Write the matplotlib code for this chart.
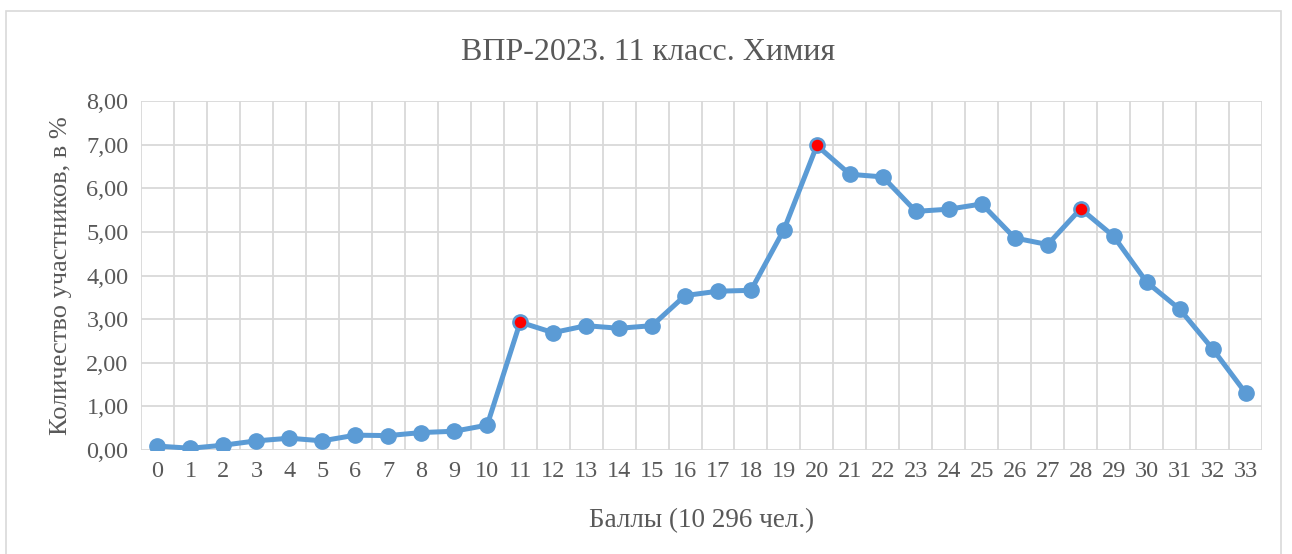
import numpy as np
import matplotlib.pyplot as plt
from matplotlib.patches import Rectangle

# scores 0..33 and share of participants, %
scores = list(range(34))
percent = [0.09, 0.04, 0.11, 0.21, 0.27, 0.21, 0.34, 0.33, 0.40, 0.43,
           0.57, 2.93, 2.69, 2.85, 2.79, 2.85, 3.54, 3.64, 3.66, 5.05,
           6.98, 6.32, 6.26, 5.47, 5.52, 5.64, 4.86, 4.71, 5.53, 4.90,
           3.85, 3.23, 2.32, 1.31]
highlight = [11, 20, 28]  # red marked points

title = "ВПР-2023. 11 класс. Химия"
xlabel = "Баллы (10 296 чел.)"
ylabel = "Количество участников, в %"

plt.rcParams['font.family'] = ['Liberation Serif', 'DejaVu Serif']
txt = '#595959'
blue = '#5B9BD5'
grid = '#D9D9D9'

fig = plt.figure(figsize=(12.92, 5.54), dpi=100)
ax = fig.add_axes([141/1292, 1 - 450/554, (1262-141)/1292, (450-101)/554])

# outer chart frame
fig.patches.append(Rectangle((6/1292, -0.05), (1281-6)/1292, 1.05 - 11/554,
                             transform=fig.transFigure, fill=False,
                             edgecolor=grid, lw=1.2))

ax.plot(scores, percent, color=blue, lw=3.6, marker='o', ms=11,
        mfc=blue, mec=blue, zorder=3)
hx = [scores[i] for i in highlight]
hy = [percent[i] for i in highlight]
ax.plot(hx, hy, ls='none', marker='o', ms=9.5, mfc='red', mec=blue,
        mew=1.2, zorder=4)

ax.set_xlim(-0.5, 33.5)
ax.set_ylim(0, 8)
ax.set_yticks(np.arange(0, 9, 1))
ax.set_yticklabels([f"{v:.2f}".replace('.', ',') for v in range(9)])
ax.set_xticks(scores)
ax.set_xticklabels([str(s) for s in scores])
ax.set_xticks(np.arange(-0.5, 34, 1), minor=True)
ax.grid(False)
ax.grid(True, which='minor', axis='x', color=grid, lw=1.3)
ax.grid(True, which='major', axis='y', color=grid, lw=1.3)
ax.set_axisbelow(True)
for s in ax.spines.values():
    s.set_visible(False)
ax.tick_params(which='both', length=0)
ax.tick_params(axis='x', labelsize=17.5, colors=txt, pad=8)
ax.tick_params(axis='y', labelsize=17.5, colors=txt, pad=9)

fig.text(0.5016, 1 - 52/554, title, fontsize=23, color=txt,
         ha='center', va='center')
ax.set_xlabel(xlabel, fontsize=19.5, color=txt, labelpad=19)
ax.set_ylabel(ylabel, fontsize=19, color=txt, labelpad=10)

fig.savefig('out.png', dpi=100)
